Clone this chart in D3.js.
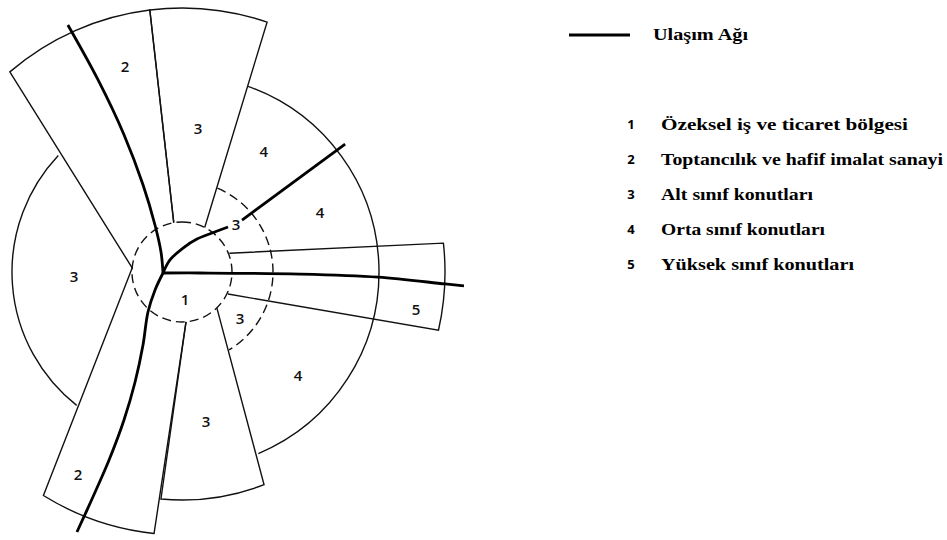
<!DOCTYPE html>
<html><head><meta charset="utf-8">
<script src="https://cdn.jsdelivr.net/npm/d3@7"></script>
<style>body{margin:0;background:#fff}</style>
</head><body>
<svg id="c" width="947" height="540"></svg>
<script>
// ---------------- DATA ----------------
const zoneIds   = [1, 2, 3, 4, 5];
const zoneNames = ["Özeksel iş ve ticaret bölgesi", "Toptancılık ve hafif imalat sanayi",
                   "Alt sınıf konutları", "Orta sınıf konutları", "Yüksek sınıf konutları"];
const roadName  = "Ulaşım Ağı";

// concentric zone boundaries (angles in degrees, clockwise from north)
const ringZone   = [1, 3, 3, 4];
const ringRadius = [50, 91, 170, 197];
const ringStart  = [0, 22.9, 218.3, 19.6];
const ringEnd    = [360, 148.9, 313.3, 157.2];

// sectors (wedges) reaching outward
const wedgeZone       = [2, 3, 3, 2, 5];
const wedgeInnerR     = [50, 50, 50, 50, 51];
const wedgeOuterR     = [264, 264, 228, 263, 263];
const wedgeInnerStart = [-85.3, -9.5, 135.8, 175.4, 68.4];
const wedgeInnerEnd   = [-9.5, 27.0, 175.4, 274.7, 115.6];
const wedgeOuterStart = [-40.7, -7.0, 158.9, 186.1, 83.7];
const wedgeOuterEnd   = [-7.0, 18.8, 185.3, 211.8, 102.8];

// transport network: [angle, radius]
const roadNW  = [[-93, 19], [-46.4, 29], [-29.9, 54.2], [-24.1, 95.3], [-22.9, 148.8], [-23.6, 209.6], [-24.8, 272.1]];
const roadNEa = [[-93, 19], [-45, 17], [2.4, 24], [24.4, 36.2], [37.6, 49.2], [45.6, 64.4]];
const roadNEb = [[49.1, 79.4], [51.9, 207.3]];
const roadE   = [[-93, 19], [93.2, 18], [91.0, 118], [91.5, 196.1], [92.6, 263.3], [92.8, 282.3]];
const roadSW  = [[-93, 19], [236.3, 32.4], [220.4, 52.5], [208.1, 82.8], [203.1, 119.6], [201.4, 159], [201.2, 201.7], [201.6, 242], [202.0, 280.4]];
const roads = [roadNW, roadNEa, roadNEb, roadE, roadSW];

// zone number labels: zone, angle, radius
const labelZone  = [2, 3, 4, 4, 3, 3, 1, 3, 5, 4, 3, 2];
const labelAngle = [-15.5, 6.4, 34.3, 66.8, 48.9, 267.3, 173.9, 129.0, 99.2, 131.9, 170.9, 207.1];
const labelR     = [212.8, 143.9, 145.3, 150.1, 71.6, 108.1, 28.2, 74.7, 237.1, 155.8, 151.9, 228.1];

// ---------------- LAYOUT (styling only) ----------------
const legendTextLen = [247, 282, 152, 164, 193];
const roadTextLen = 95;

// ---------------- DRAW ----------------
const svg = d3.select("#c");
const cx = 182, cy = 272;
const rScale = d3.scaleLinear().domain([0, 264]).range([0, 264]);
const aScale = d3.scaleLinear().domain([0, 360]).range([0, 2 * Math.PI]);
const pt = (a, r) => { const p = d3.pointRadial(aScale(a), rScale(r)); return [cx + p[0], cy + p[1]]; };
const std = a => aScale(a) - Math.PI / 2;

const g = svg.append("g");

// wedges: white fill
wedgeZone.forEach((z, i) => {
  const r0 = wedgeInnerR[i], r1 = wedgeOuterR[i];
  const f = d3.path();
  f.moveTo(...pt(wedgeInnerStart[i], r0));
  f.lineTo(...pt(wedgeOuterStart[i], r1));
  f.arc(cx, cy, rScale(r1), std(wedgeOuterStart[i]), std(wedgeOuterEnd[i]), false);
  f.lineTo(...pt(wedgeInnerEnd[i], r0));
  f.arc(cx, cy, rScale(r0), std(wedgeInnerEnd[i]), std(wedgeInnerStart[i]), true);
  f.closePath();
  g.append("path").attr("d", f.toString()).attr("fill", "#fff").attr("stroke", "none");
});

// ring arcs
ringZone.forEach((z, i) => {
  const p = d3.path();
  const r = rScale(ringRadius[i]);
  p.moveTo(...pt(ringStart[i], ringRadius[i]));
  p.arc(cx, cy, r, std(ringStart[i]), std(ringEnd[i]), false);
  g.append("path").attr("d", p.toString()).attr("fill", "none")
    .attr("stroke", "#111").attr("stroke-width", 1.4)
    .attr("stroke-dasharray", (ringRadius[i] < 100) ? "9,5" : null);
});

// wedge outlines (inner edge lies on the dashed core boundary)
wedgeZone.forEach((z, i) => {
  const r0 = wedgeInnerR[i], r1 = wedgeOuterR[i];
  const p = d3.path();
  p.moveTo(...pt(wedgeInnerStart[i], r0));
  p.lineTo(...pt(wedgeOuterStart[i], r1));
  p.arc(cx, cy, rScale(r1), std(wedgeOuterStart[i]), std(wedgeOuterEnd[i]), false);
  p.lineTo(...pt(wedgeInnerEnd[i], r0));
  g.append("path").attr("d", p.toString()).attr("fill", "none")
    .attr("stroke", "#111").attr("stroke-width", 1.4).attr("stroke-linejoin", "miter");
});

// roads
const line = d3.line().x(d => pt(d[0], d[1])[0]).y(d => pt(d[0], d[1])[1]).curve(d3.curveCatmullRom.alpha(0.5));
roads.forEach(r => {
  g.append("path").attr("d", line(r)).attr("fill", "none")
    .attr("stroke", "#000").attr("stroke-width", 2.8).attr("stroke-linecap", "butt");
});

// zone labels
labelZone.forEach((z, i) => {
  const [x, y] = pt(labelAngle[i], labelR[i]);
  g.append("text").attr("x", x).attr("y", y).attr("dy", "0.36em")
    .attr("text-anchor", "middle")
    .style("font-family", "'Open Sans', sans-serif").style("font-weight", 600).style("font-size", "15px")
    .attr("fill", "#111").text(z);
});

// legend
const lg = svg.append("g");
lg.append("line").attr("x1", 569).attr("x2", 630).attr("y1", 35).attr("y2", 35)
  .attr("stroke", "#000").attr("stroke-width", 3);
lg.append("text").attr("x", 653).attr("y", 40)
  .attr("textLength", roadTextLen).attr("lengthAdjust", "spacingAndGlyphs")
  .style("font-family", "'Liberation Serif', 'Times New Roman', serif").style("font-weight", 700).style("font-size", "17px")
  .text(roadName);

const legY = d3.scalePoint().domain(zoneIds).range([130, 270]);
zoneIds.forEach((id, i) => {
  const y = legY(id);
  lg.append("text").attr("x", 631).attr("y", y - 1).attr("text-anchor", "middle")
    .style("font-family", "'Open Sans', sans-serif").style("font-weight", 700).style("font-size", "13px")
    .text(id);
  lg.append("text").attr("x", 661).attr("y", y)
    .attr("textLength", legendTextLen[i]).attr("lengthAdjust", "spacingAndGlyphs")
    .style("font-family", "'Liberation Serif', 'Times New Roman', serif").style("font-weight", 700).style("font-size", "17px")
    .text(zoneNames[i]);
});
</script>
</body></html>
